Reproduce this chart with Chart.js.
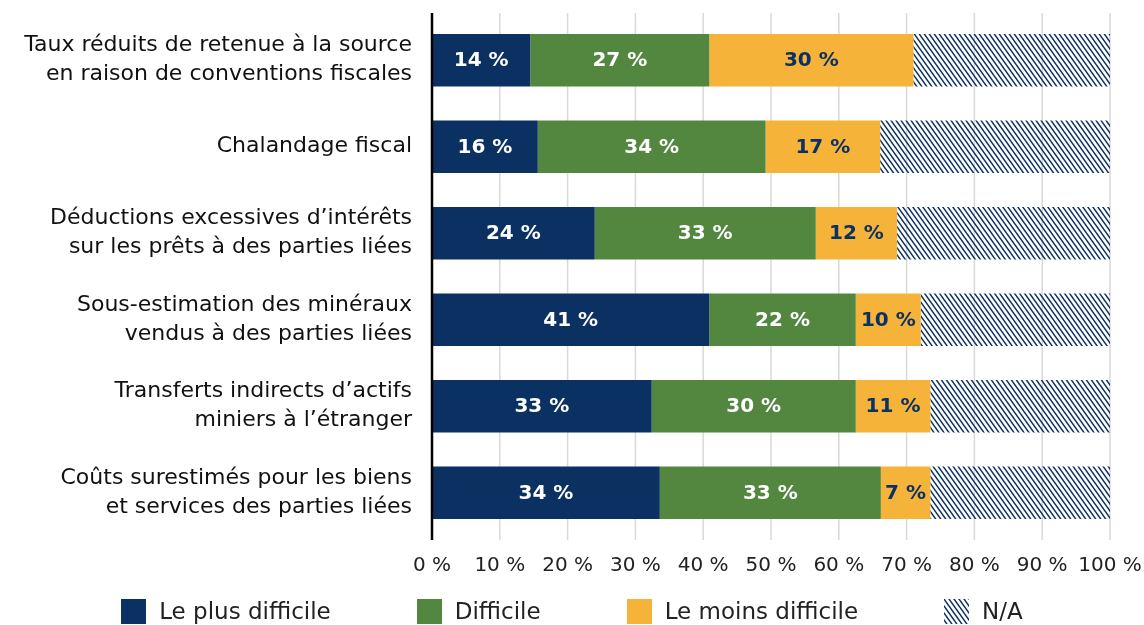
<!DOCTYPE html>
<html>
<head>
<meta charset="utf-8">
<script src="https://cdn.jsdelivr.net/npm/chart.js@4.4.1/dist/chart.umd.min.js"></script>
<style>
  html, body { margin: 0; padding: 0; background: #ffffff; }
  #wrap { position: relative; width: 1144px; height: 625px; }
  #legend {
    position: absolute; left: 0; right: 0; top: 598px;
    display: flex; justify-content: center; gap: 86px;
    font-family: "DejaVu Sans", sans-serif; font-size: 23px; line-height: 27px; color: #222;
  }
  .item { display: flex; align-items: center; gap: 13px; }
  .sw { width: 25px; height: 25px; display: inline-block; }
</style>
</head>
<body>
<div id="wrap">
  <canvas id="c" width="1144" height="625"></canvas>
  <div id="legend"></div>
</div>
<script>
// ---- Data ----
const categories = [
  ["Taux réduits de retenue à la source", "en raison de conventions fiscales"],
  ["Chalandage fiscal"],
  ["Déductions excessives d’intérêts", "sur les prêts à des parties liées"],
  ["Sous-estimation des minéraux", "vendus à des parties liées"],
  ["Transferts indirects d’actifs", "miniers à l’étranger"],
  ["Coûts surestimés pour les biens", "et services des parties liées"]
];
const seriesNames = ["Le plus difficile", "Difficile", "Le moins difficile", "N/A"];
const plusDifficile  = [14.5, 15.6, 24.0, 40.9, 32.4, 33.6];
const difficile      = [26.4, 33.6, 32.6, 21.6, 30.1, 32.6];
const moinsDifficile = [30.1, 16.9, 12.0, 9.6, 11.0, 7.3];
const nonApplicable  = [29.0, 33.9, 31.4, 27.9, 26.5, 26.5];
// labels printed on the bars
const labelPlus  = ["14 %", "16 %", "24 %", "41 %", "33 %", "34 %"];
const labelDiff  = ["27 %", "34 %", "33 %", "22 %", "30 %", "33 %"];
const labelMoins = ["30 %", "17 %", "12 %", "10 %", "11 %", "7 %"];
const xTicks = [0, 10, 20, 30, 40, 50, 60, 70, 80, 90, 100];

const NAVY = "#0b3062", GREEN = "#538740", YELLOW = "#f5b33a";

function hatch() {
  const w = 5, h = 7;
  const p = document.createElement("canvas");
  p.width = w; p.height = h;
  const g = p.getContext("2d");
  g.strokeStyle = NAVY; g.lineWidth = 1.5;
  g.beginPath();
  for (let k = -1; k <= 1; k++) {
    g.moveTo(k * w - w, -h); g.lineTo(k * w + 2 * w, 2 * h);
  }
  g.stroke();
  return p;
}
const hatchCanvas = hatch();
const ctx = document.getElementById("c").getContext("2d");
const hatchPattern = ctx.createPattern(hatchCanvas, "repeat");

const barLabels = [labelPlus, labelDiff, labelMoins];
const labelColors = ["#ffffff", "#ffffff", NAVY];

// grid lines and axis line, drawn from the library's scales, slightly overhanging the plot area
const gridPlugin = {
  id: "gridAxis",
  beforeDatasetsDraw(chart) {
    const c = chart.ctx, xs = chart.scales.x, a = chart.chartArea;
    c.save();
    c.strokeStyle = "#d9d9d9"; c.lineWidth = 1.5;
    xTicks.forEach(v => {
      if (v === 0) return;
      const x = xs.getPixelForValue(v);
      c.beginPath(); c.moveTo(x, a.top - 4); c.lineTo(x, a.bottom + 4); c.stroke();
    });
    c.restore();
  },
  afterDatasetsDraw(chart) {
    const c = chart.ctx, xs = chart.scales.x, a = chart.chartArea;
    c.save();
    c.strokeStyle = "#000"; c.lineWidth = 2.5;
    const x0 = xs.getPixelForValue(0);
    c.beginPath(); c.moveTo(x0, a.top - 4); c.lineTo(x0, a.bottom + 4); c.stroke();
    c.restore();
  }
};

const labelPlugin = {
  id: "barLabels",
  afterDatasetsDraw(chart) {
    const c = chart.ctx;
    c.save();
    c.font = "bold 20px 'DejaVu Sans', sans-serif";
    c.textAlign = "center";
    c.textBaseline = "middle";
    barLabels.forEach((arr, di) => {
      const meta = chart.getDatasetMeta(di);
      meta.data.forEach((el, i) => {
        c.fillStyle = labelColors[di];
        c.fillText(arr[i], (el.x + el.base) / 2, el.y + 1);
      });
    });
    c.restore();
  }
};

const colors = [NAVY, GREEN, YELLOW, hatchPattern];
const values = [plusDifficile, difficile, moinsDifficile, nonApplicable];

new Chart(ctx, {
  type: "bar",
  data: {
    labels: categories,
    datasets: seriesNames.map((n, i) => ({
      label: n,
      data: values[i],
      backgroundColor: colors[i],
      borderWidth: 0,
      barPercentage: 0.607,
      categoryPercentage: 1
    }))
  },
  options: {
    indexAxis: "y",
    responsive: false,
    animation: false,
    layout: { padding: { top: 17, right: 34, bottom: 49, left: 0 } },
    plugins: { legend: { display: false }, tooltip: { enabled: false } },
    scales: {
      x: {
        stacked: true,
        min: 0, max: 100,
        afterBuildTicks(scale) { scale.ticks = xTicks.map(v => ({ value: v })); },
        afterFit(scale) { scale.paddingLeft = 0; scale.paddingRight = 0; scale.height = 40; },
        ticks: {
          callback: v => v + " %",
          font: { family: "DejaVu Sans", size: 20 },
          color: "#222",
          padding: 10,
          maxRotation: 0
        },
        grid: { display: false },
        border: { display: false }
      },
      y: {
        stacked: true,
        afterFit(scale) { scale.width = 432; scale.paddingTop = 0; scale.paddingBottom = 0; },
        ticks: {
          font: { family: "DejaVu Sans", size: 22, lineHeight: 1.32 },
          color: "#111",
          padding: 20
        },
        grid: { display: false, drawTicks: false },
        border: { display: false }
      }
    }
  },
  plugins: [gridPlugin, labelPlugin]
});

// ---- HTML legend ----
const legend = document.getElementById("legend");
seriesNames.forEach((n, i) => {
  const it = document.createElement("div");
  it.className = "item";
  const sw = document.createElement("span");
  sw.className = "sw";
  if (i === 3) {
    sw.style.backgroundImage = "url(" + hatchCanvas.toDataURL() + ")";
  } else {
    sw.style.background = colors[i];
  }
  const t = document.createElement("span");
  t.textContent = n;
  it.appendChild(sw); it.appendChild(t);
  legend.appendChild(it);
});
</script>
</body>
</html>
